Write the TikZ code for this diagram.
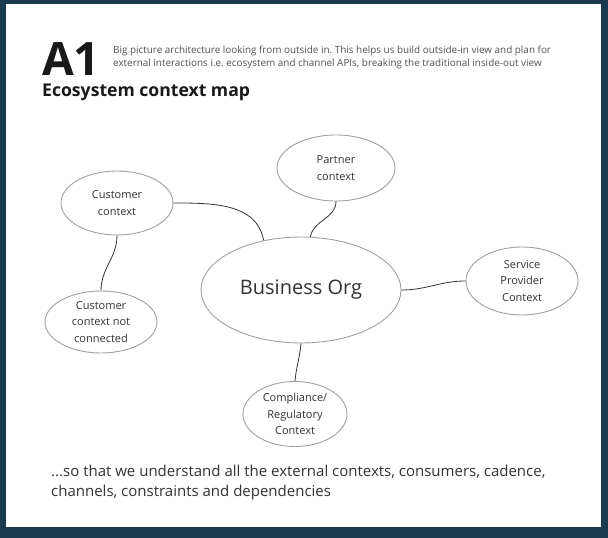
\documentclass[tikz,border=0pt]{standalone}
\usepackage{fontspec}
\setmainfont{Open Sans}
\usetikzlibrary{shapes.geometric}
\definecolor{frame}{HTML}{1B3A4E}
\definecolor{ink}{HTML}{333333}
\definecolor{rim}{HTML}{A0A0A0}
\frenchspacing
\begin{document}
\begin{tikzpicture}[x=1pt,y=-1pt,
    ctx/.style={ellipse,draw=rim,line width=0.9pt,fill=white,inner sep=0pt,
      align=center,text=ink,font=\fontsize{11}{16.5}\selectfont},
    link/.style={draw=ink,line width=0.8pt}]
  \useasboundingbox (0,0) rectangle (608,538);
  \fill[frame] (0,0) rectangle (608,538);
  \fill[white] (6,4) rectangle (601,527);
  % heading
  \node[anchor=base west,inner sep=0pt,font=\bfseries\fontsize{46}{46}\selectfont,text=black!90] (a1) at (42,75) {A1};
  \node[anchor=north west,inner sep=0pt,align=left,text=ink!85,font=\fontsize{9.9}{12.5}\selectfont] (intro) at (113,46)
    {Big picture architecture looking from outside in. This helps us build outside-in view and plan for\\
     external interactions i.e. ecosystem and channel APIs, breaking the traditional inside-out view};
  \node[anchor=base west,inner sep=0pt,font=\bfseries\fontsize{17.6}{17.6}\selectfont,text=black!90] (title) at (42,96) {Ecosystem context map};
  % contexts
  \draw
    (301,290) node[ctx,minimum width=200pt,minimum height=106pt,font=\fontsize{20}{24}\selectfont] (biz){Business Org}
    (117,203) node[ctx,minimum width=112pt,minimum height=64pt] (cust){Customer\\context}
    (101,322) node[ctx,minimum width=112pt,minimum height=62pt] (lone){Customer\\context not\\connected}
    (336,168) node[ctx,minimum width=118pt,minimum height=66pt] (partner){Partner\\context}
    (522,281) node[ctx,minimum width=112pt,minimum height=68pt] (provider){Service\\Provider\\Context}
    (295,414) node[ctx,minimum width=104pt,minimum height=65pt] (comply){Compliance/\\Regulatory\\Context};
  \begin{scope}[every path/.style=link]
    \draw (cust.east) to[out=0,in=100] (biz.127);
    \draw (cust.south) to[out=-90,in=90] (lone.north);
    \draw (partner.south) to[out=-90,in=80] (biz.80);
    \draw (biz.east) to[out=0,in=180] (provider.west);
    \draw (biz.south) to[out=-95,in=85] (comply.north);
  \end{scope}
  % closing note
  \node[anchor=north west,inner sep=0pt,align=left,text=ink,font=\fontsize{15}{20}\selectfont] (note) at (51,465)
    {...so that we understand all the external contexts, consumers, cadence,\\
     channels, constraints and dependencies};
\end{tikzpicture}
\end{document}
